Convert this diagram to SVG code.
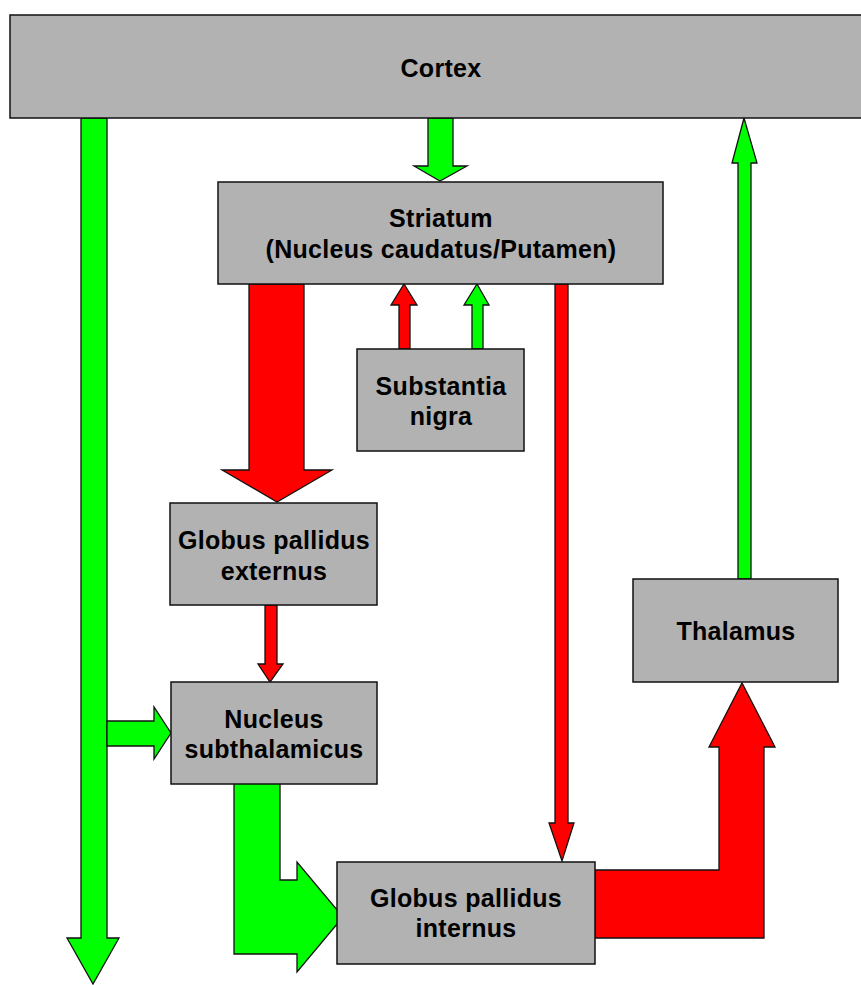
<svg xmlns="http://www.w3.org/2000/svg" width="861" height="985" viewBox="0 0 861 985">
<style>
.box{fill:#b2b2b2;stroke:#111;stroke-width:1.5}
.g{fill:#00ff00;stroke:#111;stroke-width:1.3;stroke-linejoin:miter}
.r{fill:#ff0000;stroke:#111;stroke-width:1.3;stroke-linejoin:miter}
text{font-family:"Liberation Sans",Arial,sans-serif;font-weight:bold;font-size:25px;letter-spacing:0.3px;text-anchor:middle;fill:#000}
</style>
<rect width="861" height="985" fill="#fff"/>
<g id="connectors">
<polygon class="g" points="81,118 107,118 107,938 119,938 93,984 67,938 81,938"/>
<polygon class="g" points="107,721 154,721 154,707 171,733 154,759 154,746 107,746"/>
<polygon class="g" points="428,118 453,118 453,166 467,166 440,181 414,166 428,166"/>
<polygon class="r" points="249,284 304,284 304,470 332,470 277,502 222,470 249,470"/>
<polygon class="r" points="399,349 410,349 410,305 417,305 404,284 391,305 399,305"/>
<polygon class="g" points="472,349 483,349 483,305 489,305 477,284 464,305 472,305"/>
<polygon class="r" points="265,605 277,605 277,664 283,664 270,682 258,664 265,664"/>
<polygon class="r" points="555,284 568,284 568,823 574,823 562,861 549,823 555,823"/>
<polygon class="g" points="738,579 751,579 751,163 757,163 744,118 732,163 738,163"/>
<polygon class="g" points="234,782 280,782 280,880 297,880 297,862 343,917 297,972 297,954 234,954"/>
<polygon class="r" points="595,870 719,870 719,747 709,747 742,683 775,747 764,747 764,938 595,938"/>
</g>
<g id="cortex">
<rect class="box" x="10" y="15" width="860" height="103"/>
<text x="441" y="77">Cortex</text>
</g>
<g id="striatum">
<rect class="box" x="218" y="182" width="445" height="102"/>
<text x="441" y="227">Striatum</text>
<text x="441" y="258">(Nucleus caudatus/Putamen)</text>
</g>
<g id="substantia-nigra">
<rect class="box" x="357" y="349" width="167" height="102"/>
<text x="441" y="395">Substantia</text>
<text x="441" y="425">nigra</text>
</g>
<g id="gpe">
<rect class="box" x="170" y="503" width="207" height="102"/>
<text x="274" y="549">Globus pallidus</text>
<text x="274" y="580">externus</text>
</g>
<g id="stn">
<rect class="box" x="171" y="682" width="206" height="102"/>
<text x="274" y="728">Nucleus</text>
<text x="274" y="758">subthalamicus</text>
</g>
<g id="gpi">
<rect class="box" x="337" y="862" width="258" height="102"/>
<text x="466" y="907">Globus pallidus</text>
<text x="466" y="937">internus</text>
</g>
<g id="thalamus">
<rect class="box" x="633" y="579" width="205" height="103"/>
<text x="736" y="640">Thalamus</text>
</g>
</svg>
